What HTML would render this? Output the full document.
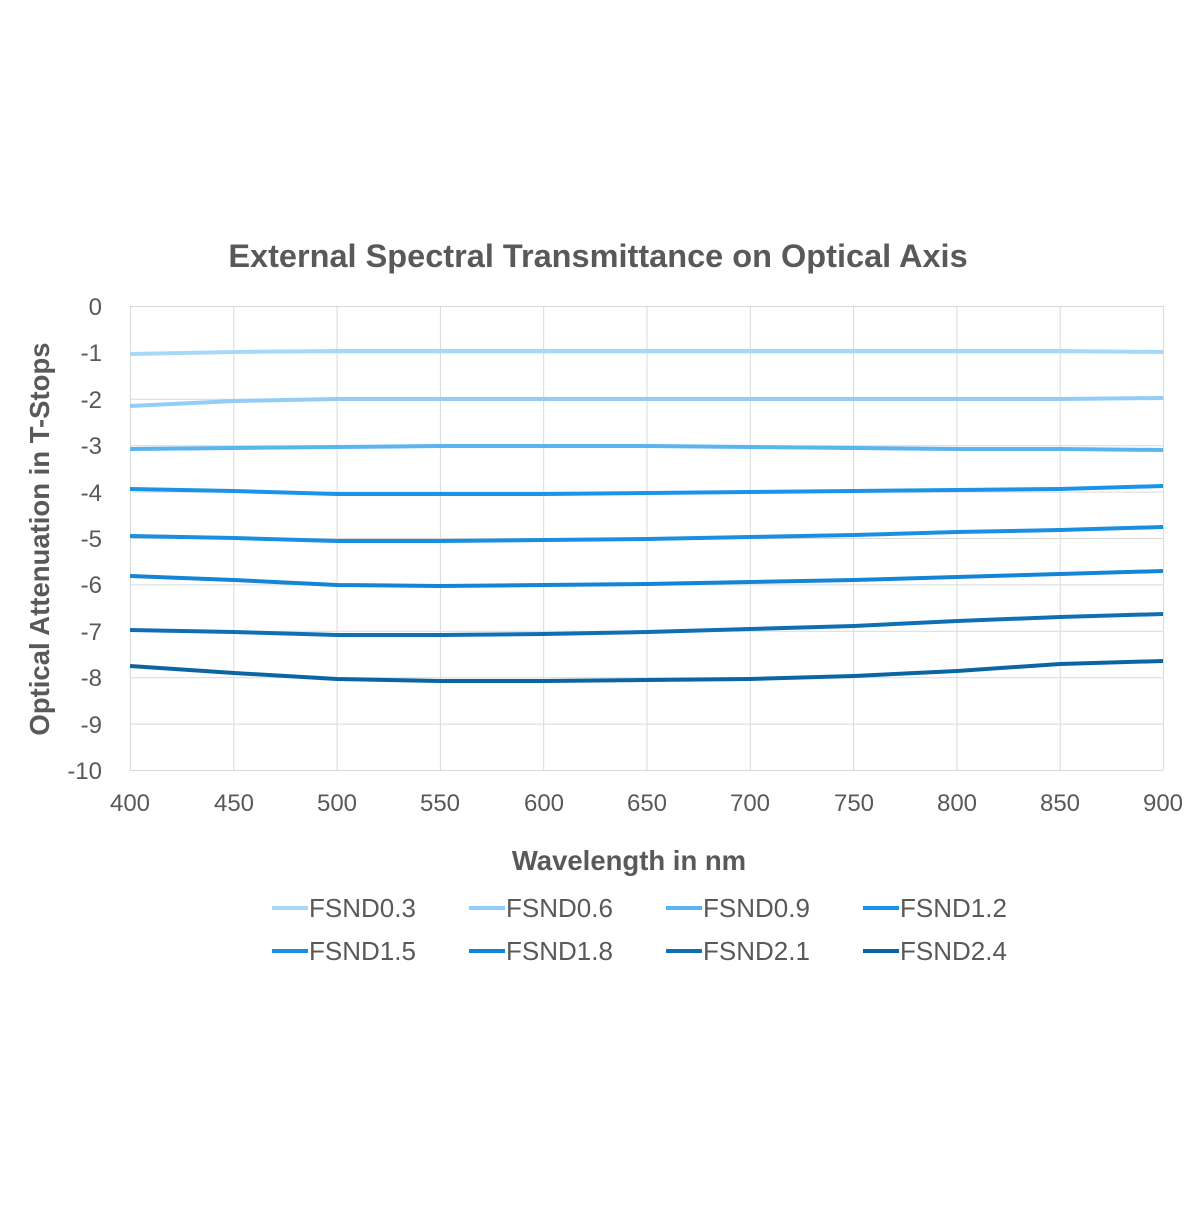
<!DOCTYPE html>
<html><head><style>body{margin:0;background:#fff}</style></head><body>
<svg width="1200" height="1200" xmlns="http://www.w3.org/2000/svg" font-family="Liberation Sans, sans-serif">
<rect width="1200" height="1200" fill="#fff"/>
<text x="598" y="267" font-size="32.5" font-weight="bold" fill="#595959" text-anchor="middle">External Spectral Transmittance on Optical Axis</text>
<g stroke="#d9d9d9" stroke-width="1">
<line x1="130" y1="306.5" x2="1163" y2="306.5"/><line x1="130" y1="352.9" x2="1163" y2="352.9"/><line x1="130" y1="399.3" x2="1163" y2="399.3"/><line x1="130" y1="445.7" x2="1163" y2="445.7"/><line x1="130" y1="492.1" x2="1163" y2="492.1"/><line x1="130" y1="538.5" x2="1163" y2="538.5"/><line x1="130" y1="584.9" x2="1163" y2="584.9"/><line x1="130" y1="631.3" x2="1163" y2="631.3"/><line x1="130" y1="677.7" x2="1163" y2="677.7"/><line x1="130" y1="724.1" x2="1163" y2="724.1"/><line x1="130" y1="770.5" x2="1163" y2="770.5"/>
<line x1="130.5" y1="306" x2="130.5" y2="770"/><line x1="233.8" y1="306" x2="233.8" y2="770"/><line x1="337.1" y1="306" x2="337.1" y2="770"/><line x1="440.4" y1="306" x2="440.4" y2="770"/><line x1="543.7" y1="306" x2="543.7" y2="770"/><line x1="647" y1="306" x2="647" y2="770"/><line x1="750.3" y1="306" x2="750.3" y2="770"/><line x1="853.6" y1="306" x2="853.6" y2="770"/><line x1="956.9" y1="306" x2="956.9" y2="770"/><line x1="1060.2" y1="306" x2="1060.2" y2="770"/><line x1="1163.5" y1="306" x2="1163.5" y2="770"/>
</g>
<g font-size="24" fill="#595959" text-anchor="end">
<text x="102" y="315">0</text><text x="102" y="361">-1</text><text x="102" y="408">-2</text><text x="102" y="454">-3</text><text x="102" y="501">-4</text><text x="102" y="547">-5</text><text x="102" y="593">-6</text><text x="102" y="640">-7</text><text x="102" y="686">-8</text><text x="102" y="733">-9</text><text x="102" y="779">-10</text>
</g>
<g font-size="24" fill="#595959" text-anchor="middle">
<text x="130" y="811">400</text><text x="234" y="811">450</text><text x="337" y="811">500</text><text x="440" y="811">550</text><text x="544" y="811">600</text><text x="647" y="811">650</text><text x="750" y="811">700</text><text x="854" y="811">750</text><text x="957" y="811">800</text><text x="1060" y="811">850</text><text x="1163" y="811">900</text>
</g>
<text x="629" y="870" font-size="27.5" font-weight="bold" fill="#595959" text-anchor="middle">Wavelength in nm</text>
<text transform="translate(49,539) rotate(-90)" font-size="27.5" font-weight="bold" fill="#595959" text-anchor="middle">Optical Attenuation in T-Stops</text>
<g fill="none" stroke-width="4" stroke-linejoin="round">
<polyline stroke="#a9d8f7" points="130,354 234,352 337,351 440,351 544,351 647,351 750,351 854,351 957,351 1060,351 1163,352"/>
<polyline stroke="#92cdf5" points="130,406 234,401 337,399 440,399 544,399 647,399 750,399 854,399 957,399 1060,399 1163,398"/>
<polyline stroke="#5ab4f0" points="130,449 234,448 337,447 440,446 544,446 647,446 750,447 854,448 957,449 1060,449 1163,450"/>
<polyline stroke="#1a94e6" points="130,489 234,491 337,494 440,494 544,494 647,493 750,492 854,491 957,490 1060,489 1163,486"/>
<polyline stroke="#1a8fe2" points="130,536 234,538 337,541 440,541 544,540 647,539 750,537 854,535 957,532 1060,530 1163,527"/>
<polyline stroke="#1684d4" points="130,576 234,580 337,585 440,586 544,585 647,584 750,582 854,580 957,577 1060,574 1163,571"/>
<polyline stroke="#0f6fb3" points="130,630 234,632 337,635 440,635 544,634 647,632 750,629 854,626 957,621 1060,617 1163,614"/>
<polyline stroke="#0d64a3" points="130,666 234,673 337,679 440,681 544,681 647,680 750,679 854,676 957,671 1060,664 1163,661"/>
</g>
<g stroke-width="4">
<line x1="272" y1="908" x2="308" y2="908" stroke="#a9d8f7"/><line x1="469" y1="908" x2="505" y2="908" stroke="#92cdf5"/><line x1="666" y1="908" x2="702" y2="908" stroke="#5ab4f0"/><line x1="863" y1="908" x2="899" y2="908" stroke="#1a94e6"/>
<line x1="272" y1="951" x2="308" y2="951" stroke="#1a8fe2"/><line x1="469" y1="951" x2="505" y2="951" stroke="#1684d4"/><line x1="666" y1="951" x2="702" y2="951" stroke="#0f6fb3"/><line x1="863" y1="951" x2="899" y2="951" stroke="#0d64a3"/>
</g>
<g font-size="26" fill="#595959">
<text x="309" y="917">FSND0.3</text><text x="506" y="917">FSND0.6</text><text x="703" y="917">FSND0.9</text><text x="900" y="917">FSND1.2</text>
<text x="309" y="960">FSND1.5</text><text x="506" y="960">FSND1.8</text><text x="703" y="960">FSND2.1</text><text x="900" y="960">FSND2.4</text>
</g>
</svg>
</body></html>
